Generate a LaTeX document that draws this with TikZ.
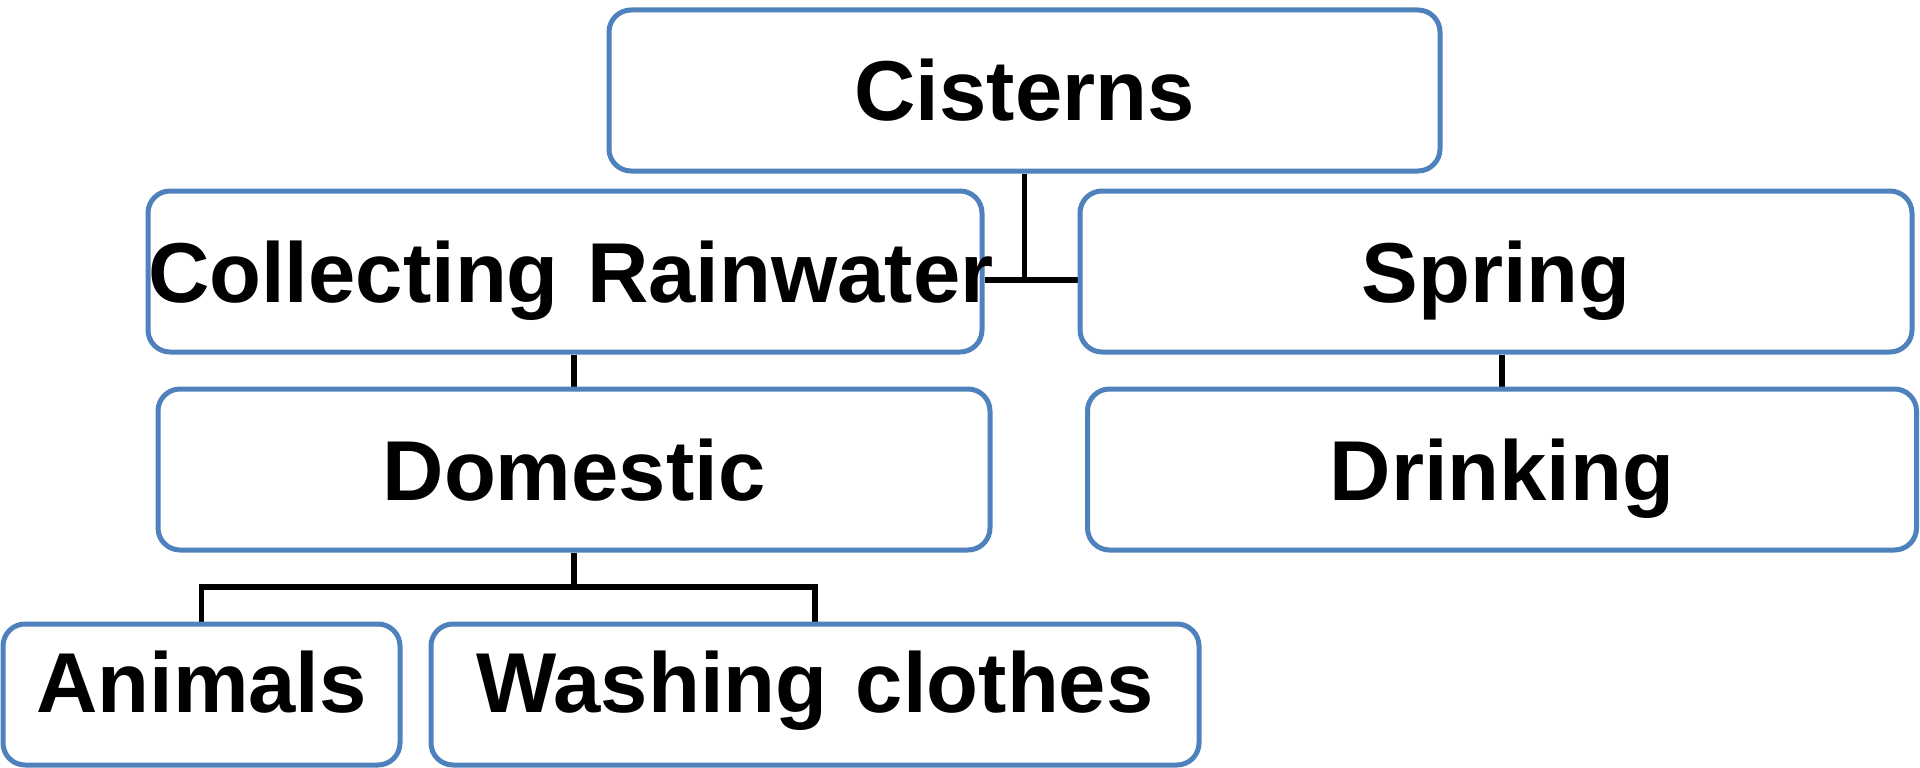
\documentclass[tikz,border=0pt]{standalone}
\usepackage{fontspec}
\setmainfont{Liberation Sans}
\usepackage{tikz}
\usetikzlibrary{backgrounds}
\definecolor{boxblue}{RGB}{79,129,189}

\begin{document}
\begin{tikzpicture}[x=1pt, y=-1pt,
  box/.style={draw=boxblue, line width=5pt, rounded corners=22pt, fill=white,
    minimum height=161pt, inner sep=0pt, align=center,
    font=\fontsize{85}{90}\selectfont\bfseries, text height=61pt, text depth=0pt},
  lowbox/.style={box, minimum height=141pt, text depth=25pt},
  link/.style={draw=black, line width=5.5pt}]
\useasboundingbox (0,0) rectangle (1920,768);
\node[box, text width=831pt] (cisterns) at (1024.5,90.5) {Cisterns};
\node[box, text width=834pt] (collecting) at (565,271.5) {\mbox{Collecting Rainwater}};
\node[box, text width=832pt] (spring) at (1496,271.5) {Spring};
\node[box, text width=832pt] (domestic) at (574,469.5) {Domestic};
\node[box, text width=829pt] (drinking) at (1502,469.5) {Drinking};
\node[lowbox, text width=397pt] (animals) at (201.5,694.5) {Animals};
\node[lowbox, text width=768pt] (washing) at (815,694.5) {Washing clothes};

\coordinate (junc) at (1024.5,280);
\coordinate (fork) at (574,587);
\begin{scope}[on background layer]
\draw[link] (cisterns.south)--(junc);
\draw[link] (collecting.east |- junc)--(spring.west |- junc);
\draw[link] (collecting.south -| domestic.north)--(domestic.north);
\draw[link] (spring.south -| drinking.north)--(drinking.north);
\draw[link] (domestic.south)--(fork);
\draw[link] (animals.north) |- (fork) -| (washing.north);
\end{scope}
\end{tikzpicture}
\end{document}
